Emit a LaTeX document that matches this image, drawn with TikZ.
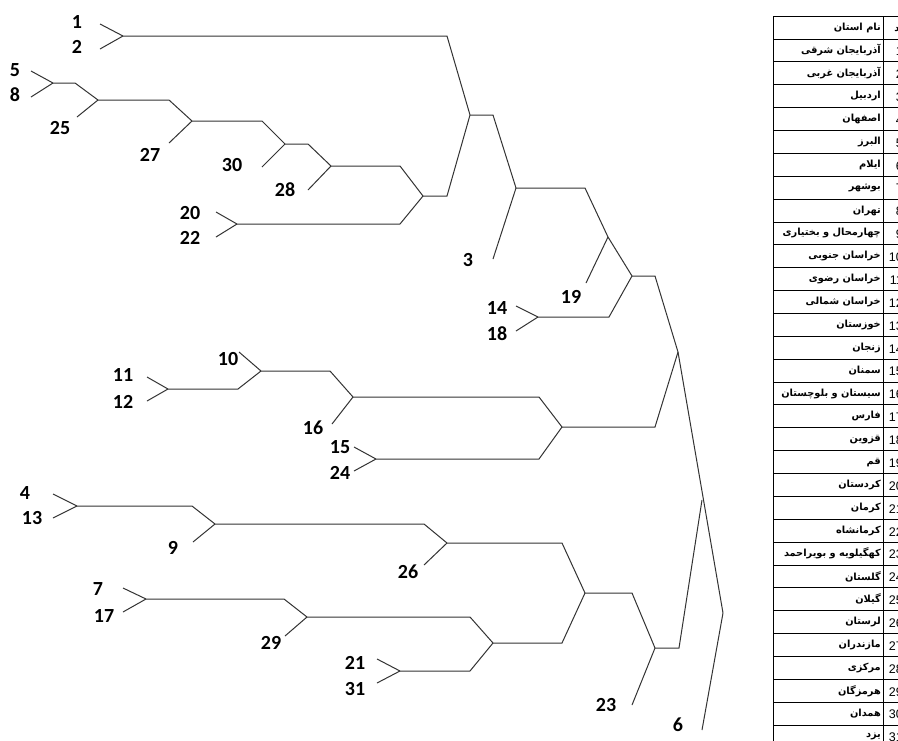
\documentclass[tikz,border=0pt]{standalone}
\usepackage{fontspec}
\setsansfont{Carlito}
\newfontfamily\farsi[Script=Arabic]{DejaVu Sans}
\newfontfamily\numfont{Liberation Sans}
\TeXXeTstate=1
\usepackage{tikz}
\usetikzlibrary{calc}

\tikzset{
  branch/.style={line width=1pt, draw=black!80},
  leaflab/.style={font=\sffamily\bfseries\fontsize{20}{24}\selectfont, inner sep=0pt},
  province/.style={font=\farsi\bfseries\fontsize{9.8}{11}\selectfont, anchor=east, inner sep=0pt},
  code/.style={font=\numfont\fontsize{12.5}{14}\selectfont, anchor=east, inner sep=0pt},
  grid/.style={line width=0.9pt, draw=black},
}

\begin{document}
\begin{tikzpicture}[x=1pt,y=-1pt]
  \useasboundingbox (0,0) rectangle (898,740);
  \fill[white] (0,0) rectangle (898,740);

  % Joins of the dendrogram
  \coordinate (j1-2) at (123,36);
  \coordinate (j5-8) at (53,83);
  \coordinate (j25) at (98,100);
  \coordinate (j27) at (192,121);
  \coordinate (j30) at (285,144);
  \coordinate (j28) at (331,166);
  \coordinate (j20-22) at (237,224);
  \coordinate (jA) at (423,196);
  \coordinate (jB) at (470,115);
  \coordinate (j3) at (516,188);
  \coordinate (j19) at (608,237);
  \coordinate (jC) at (632,276);
  \coordinate (j14-18) at (538,317);
  \coordinate (jD) at (678,352);
  \coordinate (j11-12) at (168,389);
  \coordinate (j10) at (261,371);
  \coordinate (j16) at (353,397);
  \coordinate (j15-24) at (376,459);
  \coordinate (jE) at (562,427);
  \coordinate (j4-13) at (77,506);
  \coordinate (j9) at (215,524);
  \coordinate (j26) at (447,543);
  \coordinate (j7-17) at (146,599);
  \coordinate (j29) at (307,617);
  \coordinate (j21-31) at (400,671);
  \coordinate (jF) at (493,643);
  \coordinate (jG) at (585,593);
  \coordinate (j23) at (655,648);
  \coordinate (jH) at (702,500);
  \coordinate (jR) at (723,613);

  % Arms: horizontal run, then slanted step to the parent
  \foreach \ch/\pa in {j1-2/jB, j5-8/j25, j25/j27, j27/j30, j30/j28, j28/jA,
      j20-22/jA, jA/jB, jB/j3, j3/j19, j14-18/jC, jC/jD, jE/jD,
      j11-12/j10, j10/j16, j16/jE, j15-24/jE, j4-13/j9, j9/j26, j26/jG,
      j7-17/j29, j29/jF, j21-31/jF, jF/jG, jG/j23, j23/jH} {
    \draw[branch] let \p1=(\ch), \p2=(\pa) in (\p1) -- (\x2-23pt,\y1) -- (\p2);
  }
  \draw[branch] (j19) -- (jC);
  \draw[branch] (jD) -- (jR);

  % Leaves: label, free end, join
  \foreach \n/\lx/\ly/\ex/\ey/\j in {1/77/22/100/24/j1-2, 2/77/47/100/49/j1-2,
      5/15/70/31/71/j5-8, 8/15/95/31/97/j5-8, 25/60/128/77/117/j25,
      27/150/155/169/143/j27, 30/232/165/262/167/j30, 28/285/190/308/190/j28,
      20/190/213/216/212/j20-22, 22/190/238/216/237/j20-22, 3/468/260/493/259/j3,
      19/571/297/586/283/j19, 14/497/308/516/306/j14-18, 18/497/334/516/331/j14-18,
      10/228/359/239/352/j10, 11/123/375/147/377/j11-12, 12/123/402/147/401/j11-12,
      16/313/428/332/424/j16, 15/340/447/354/447/j15-24, 24/340/473/354/471/j15-24,
      4/25/493/53/494/j4-13, 13/32/518/53/518/j4-13, 9/173/548/193/542/j9,
      26/408/572/424/565/j26, 7/98/589/123/588/j7-17, 17/104/616/123/612/j7-17,
      29/271/643/285/636/j29, 21/355/663/377/659/j21-31, 31/355/689/377/683/j21-31,
      23/606/705/632/705/j23, 6/678/725/702/730/jR} {
    \node[leaflab] (l\n) at (\lx,\ly) {\n};
    \draw[branch] (\ex,\ey) coordinate (e\n) -- (\j);
  }

  % Province table (cut off at the right and bottom, as in the source)
  \begin{scope}
    \clip (0,0) rectangle (898,740);
    \draw[grid] (773,16) rectangle (930,760);
    \draw[grid] (883,16) -- (883,760);
    \foreach \k in {0,...,31} {
      \draw[grid] (773,{39+\k*22.87}) -- (930,{39+\k*22.87});
    }
    \node[province] (phead) at (881,27.5) {\beginR نام استان\endR};
    \node[province] (chead) at (906,27.5) {\beginR کد\endR};
    \foreach \k/\name in {1/آذربایجان شرقی, 2/آذربایجان غربی, 3/اردبیل, 4/اصفهان,
        5/البرز, 6/ایلام, 7/بوشهر, 8/تهران, 9/چهارمحال و بختیاری,
        10/خراسان جنوبی, 11/خراسان رضوی, 12/خراسان شمالی, 13/خوزستان,
        14/زنجان, 15/سمنان, 16/سیستان و بلوچستان, 17/فارس, 18/قزوین,
        19/قم, 20/کردستان, 21/کرمان, 22/کرمانشاه, 23/کهگیلویه و بویراحمد,
        24/گلستان, 25/گیلان, 26/لرستان, 27/مازندران, 28/مرکزی,
        29/هرمزگان, 30/همدان, 31/یزد} {
      \node[province] (p\k) at (881,{39+(\k-0.5)*22.87}) {\beginR\name\endR};
      \node[code] (c\k) at (903,{39+(\k-0.5)*22.87+1}) {\k};
    }
  \end{scope}
\end{tikzpicture}
\end{document}
